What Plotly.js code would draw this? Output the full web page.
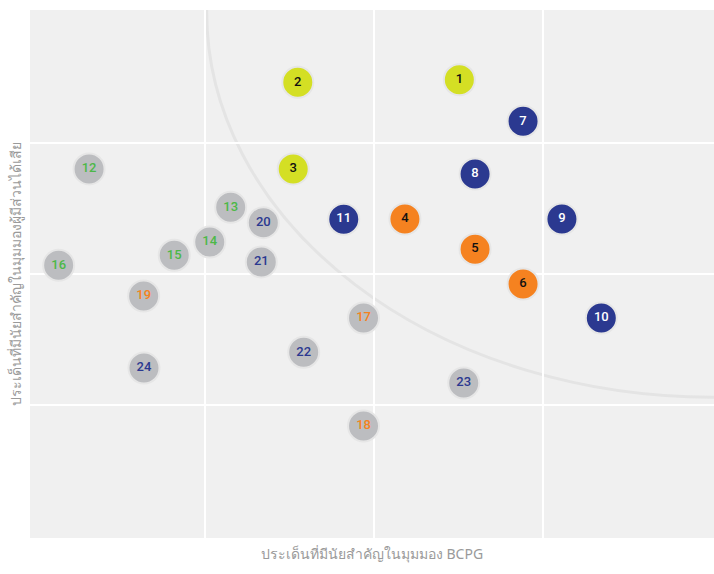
<!DOCTYPE html>
<html>
<head>
<meta charset="utf-8">
<script src="https://cdn.plot.ly/plotly-3.0.1.min.js"></script>
<style>html,body{margin:0;padding:0;background:#fff;}#chart{width:714px;height:574px;}</style>
</head>
<body>
<div id="chart"></div>
<script>
// Issue numbers
const labels = ['1','2','3','4','5','6','7','8','9','10','11','12','13','14','15','16','17','18','19','20','21','22','23','24'];
// Importance to BCPG (x) and to stakeholders (y)
const xVals = [2.505,1.549,1.522,2.183,2.598,2.882,2.882,2.598,3.112,3.345,1.821,0.314,1.152,1.028,0.818,0.134,1.938,1.938,0.637,1.345,1.333,1.584,2.531,0.639];
const yVals = [3.483,3.463,2.802,2.420,2.189,1.924,3.166,2.763,2.420,1.664,2.418,2.802,2.509,2.244,2.143,2.066,1.664,0.840,1.832,2.392,2.092,1.402,1.168,1.282];
// Fill group and label colour group for each issue
const fillGroup = ['yellow','yellow','yellow','orange','orange','orange','navy','navy','navy','navy','navy','gray','gray','gray','gray','gray','gray','gray','gray','gray','gray','gray','gray','gray'];
const textGroup = ['black','black','black','black','black','black','white','white','white','white','white','green','green','green','green','green','orange','orange','orange','navy','navy','navy','navy','navy'];
const gridTicks = [1,2,3];
const axisTitles = {x:'ประเด็นที่มีนัยสำคัญในมุมมอง BCPG', y:'ประเด็นที่มีนัยสำคัญในมุมมองผู้มีส่วนได้เสีย'};

const fillColors = {yellow:'#d4df24', orange:'#f58220', navy:'#2b3990', gray:'#bcbdc0'};
const textColors = {black:'#111111', white:'#ffffff', green:'#4cb848', orange:'#f58220', navy:'#2b3990'};

const trace = {
  type:'scatter', mode:'markers+text',
  x:xVals, y:yVals, text:labels,
  textposition:'middle center',
  textfont:{family:'Roboto, "DejaVu Sans Condensed", sans-serif', size:13, weight:500, color:textGroup.map(g=>textColors[g])},
  marker:{size:31, color:fillGroup.map(g=>fillColors[g]), line:{color:'#e6e6e6', width:2}},
  hoverinfo:'none', cliponaxis:false
};

const layout = {
  width:714, height:574,
  margin:{l:30, r:0, t:10, b:36},
  paper_bgcolor:'#ffffff', plot_bgcolor:'#f0f0f0',
  showlegend:false,
  font:{family:'"Noto Sans", sans-serif', color:'#9a9a9a'},
  xaxis:{range:[-0.0355,4.0118], tickvals:gridTicks, showticklabels:false, ticks:'', showgrid:true, gridcolor:'#ffffff', gridwidth:2, zeroline:false, showline:false, fixedrange:true,
    title:{text:axisTitles.x, font:{size:14, color:'#9a9a9a'}, standoff:11}},
  yaxis:{range:[-0.0153,4.0153], tickvals:gridTicks, showticklabels:false, ticks:'', showgrid:true, gridcolor:'#ffffff', gridwidth:2, zeroline:false, showline:false, fixedrange:true,
    title:{text:axisTitles.y, font:{size:14, color:'#9a9a9a'}, standoff:4}},
  shapes:[{type:'circle', xref:'x', yref:'y', x0:4-2.99, x1:4+2.99, y0:4-2.94, y1:4+2.94, line:{color:'#e4e4e4', width:3}, layer:'below'}]
};

Plotly.newPlot('chart',[trace],layout,{displayModeBar:false, staticPlot:true});
</script>
</body>
</html>
